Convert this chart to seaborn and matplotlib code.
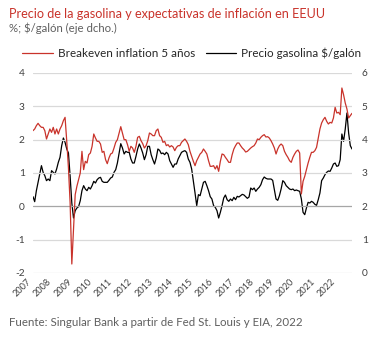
import numpy as np
import pandas as pd
import matplotlib
matplotlib.use("Agg")
import matplotlib.pyplot as plt
import matplotlib.transforms as mtransforms
from matplotlib.lines import Line2D
import seaborn as sns

# Monthly data, Jan 2007 .. Oct 2022
breakeven = [
    2.27, 2.32, 2.42, 2.49, 2.42, 2.37, 2.37, 2.27, 2.02, 2.17, 2.32, 2.22,
    2.37, 2.17, 2.32, 2.17, 2.32, 2.42, 2.57, 2.67, 1.95, 1.15, 0.10, -1.73,
    -0.70, 0.35, 0.60, 0.80, 1.00, 1.65, 1.10, 1.35, 1.30, 1.55, 1.60, 1.80,
    2.17, 2.05, 1.95, 1.95, 1.87, 1.62, 1.65, 1.40, 1.28, 1.45, 1.57, 1.60,
    1.75, 1.92, 2.00, 2.20, 2.39, 2.20, 2.00, 2.00, 1.85, 1.65, 1.80, 1.75,
    1.62, 1.80, 2.07, 2.10, 1.97, 1.88, 1.75, 1.82, 1.97, 2.20, 2.17, 2.12,
    2.12, 2.27, 2.32, 2.12, 2.07, 1.92, 1.95, 1.82, 1.85, 1.78, 1.82, 1.78,
    1.67, 1.77, 1.82, 1.82, 1.92, 1.97, 2.02, 1.95, 1.85, 1.65, 1.50, 1.35,
    1.22, 1.37, 1.47, 1.57, 1.62, 1.72, 1.65, 1.57, 1.37, 1.20, 1.20, 1.22,
    1.12, 1.22, 1.05, 1.35, 1.57, 1.55, 1.47, 1.40, 1.32, 1.32, 1.55, 1.72,
    1.82, 1.90, 1.90, 1.82, 1.75, 1.70, 1.63, 1.65, 1.70, 1.75, 1.79, 1.82,
    1.90, 2.02, 2.00, 2.07, 2.12, 2.15, 2.08, 2.09, 2.05, 1.97, 1.87, 1.75,
    1.57, 1.72, 1.82, 1.87, 1.82, 1.65, 1.55, 1.47, 1.37, 1.32, 1.47, 1.57,
    1.65, 1.69, 1.60, 0.37, 0.75, 0.90, 1.10, 1.30, 1.47, 1.62, 1.62, 1.67,
    1.77, 2.05, 2.32, 2.50, 2.60, 2.67, 2.55, 2.47, 2.52, 2.50, 2.65, 2.97,
    2.80, 2.82, 2.75, 3.55, 3.35, 3.10, 2.92, 2.65, 2.72, 2.79,
]
gasoline = [
    2.29, 2.14, 2.47, 2.72, 2.97, 3.22, 3.02, 2.92, 2.77, 2.82, 2.77, 3.07,
    3.02, 2.97, 3.12, 3.32, 3.47, 3.82, 4.05, 3.92, 3.72, 3.60, 2.90, 2.10,
    1.65, 1.87, 1.95, 1.99, 2.17, 2.47, 2.62, 2.52, 2.47, 2.57, 2.52, 2.62,
    2.75, 2.70, 2.80, 2.85, 2.87, 2.75, 2.72, 2.72, 2.72, 2.78, 2.85, 2.88,
    3.02, 3.10, 3.30, 3.60, 3.88, 3.75, 3.57, 3.65, 3.62, 3.62, 3.42, 3.30,
    3.30, 3.50, 3.72, 3.87, 3.75, 3.60, 3.40, 3.55, 3.80, 3.80, 3.55, 3.40,
    3.27, 3.45, 3.72, 3.68, 3.58, 3.60, 3.55, 3.62, 3.57, 3.37, 3.27, 3.17,
    3.27, 3.27, 3.42, 3.52, 3.62, 3.65, 3.67, 3.62, 3.42, 3.32, 3.12, 2.77,
    2.40, 2.02, 2.35, 2.32, 2.52, 2.72, 2.75, 2.62, 2.47, 2.29, 2.22, 2.02,
    1.97, 1.87, 1.65, 1.82, 2.02, 2.25, 2.34, 2.20, 2.15, 2.22, 2.17, 2.27,
    2.20, 2.30, 2.28, 2.32, 2.36, 2.34, 2.29, 2.24, 2.28, 2.55, 2.50, 2.55,
    2.45, 2.52, 2.57, 2.65, 2.80, 2.88, 2.84, 2.82, 2.82, 2.82, 2.78, 2.50,
    2.22, 2.18, 2.32, 2.52, 2.77, 2.72, 2.62, 2.57, 2.52, 2.50, 2.52, 2.47,
    2.49, 2.47, 2.45, 2.22, 1.82, 1.75, 1.95, 2.12, 2.10, 2.15, 2.12, 2.06,
    2.03, 2.20, 2.40, 2.77, 2.85, 2.95, 3.02, 3.06, 3.05, 3.15, 3.27, 3.30,
    3.20, 3.22, 3.40, 4.17, 3.95, 4.32, 4.80, 4.20, 3.82, 3.72,
]
year_labels = [str(y) for y in range(2007, 2023)]
left_ticks = [-2, -1, 0, 1, 2, 3, 4]
right_ticks = [0, 1, 2, 3, 4, 5, 6]

title = "Precio de la gasolina y expectativas de inflación en EEUU"
subtitle = "%; $/galón (eje dcho.)"
source = "Fuente: Singular Bank a partir de Fed St. Louis y EIA, 2022"
label_be = "Breakeven inflation 5 años"
label_gas = "Precio gasolina $/galón"

RED = "#c9332b"
BLACK = "#000000"
GRID = "#d9d9d9"
TXT = "#404040"

sns.set_style("white")
plt.rcParams["font.family"] = ["Lato", "DejaVu Sans"]

df = pd.DataFrame({"m": np.arange(len(breakeven)),
                   "be": breakeven, "gas": gasoline})

fig = plt.figure(figsize=(3.88, 3.38), dpi=100)
ax = fig.add_axes([33 / 388, 1 - 273 / 338, 319 / 388, 200 / 338])
ax2 = ax.twinx()

sns.lineplot(data=df, x="m", y="be", ax=ax, color=RED, lw=0.9, legend=False)
sns.lineplot(data=df, x="m", y="gas", ax=ax2, color=BLACK, lw=0.9, legend=False)

ax.set_xlim(0, len(breakeven) - 1)
ax.set_ylim(-2, 4)
ax2.set_ylim(0, 6)
ax.set_yticks(left_ticks)
ax.set_yticklabels([str(t) for t in left_ticks])
ax2.set_yticks(right_ticks)
ax2.set_yticklabels([str(t) for t in right_ticks])

for t in left_ticks:
    ax.axhline(t, color="#a6a6a6" if t == 0 else GRID, lw=0.9, zorder=0)
ax.set_zorder(ax2.get_zorder() + 1)
ax.patch.set_visible(False)

ax.set_xticks([12 * i for i in range(len(year_labels))])
ax.set_xticklabels(year_labels, rotation=45, ha="right", fontsize=6.6)
for i, lab in enumerate(ax.get_xticklabels()):
    dx = (-4 + 0.4 * i) / 100.0
    lab.set_transform(lab.get_transform() +
                      mtransforms.ScaledTranslation(dx, 0, fig.dpi_scale_trans))

for a in (ax, ax2):
    for s in a.spines.values():
        s.set_visible(False)
    a.set_xlabel("")
    a.set_ylabel("")
ax.tick_params(axis="x", length=0, pad=3, colors=TXT)
ax.tick_params(axis="y", length=0, pad=6, labelsize=7.3, colors=TXT)
ax2.tick_params(axis="y", length=0, pad=7, labelsize=7.3, colors=TXT)
ax.grid(False)
ax2.grid(False)

fig.text(9 / 388, 1 - 14 / 338, title, color=RED, fontsize=9.05, va="center", ha="left")
fig.text(9 / 388, 1 - 28 / 338, subtitle, color="#5f5f5f", fontsize=8.2, va="center", ha="left")
fig.text(9 / 388, 1 - 323 / 338, source, color="#5f5f5f", fontsize=8.3, va="center", ha="left")

handles = [Line2D([], [], color=RED, lw=0.9), Line2D([], [], color=BLACK, lw=0.9)]
fig.legend(handles, [label_be, label_gas], loc="center", ncol=2,
           bbox_to_anchor=(192 / 388, 1 - 53 / 338), frameon=False,
           fontsize=8.4, handlelength=2.6, handletextpad=0.45, columnspacing=0.9,
           labelcolor="#262626")

fig.savefig("out.png", dpi=100)
